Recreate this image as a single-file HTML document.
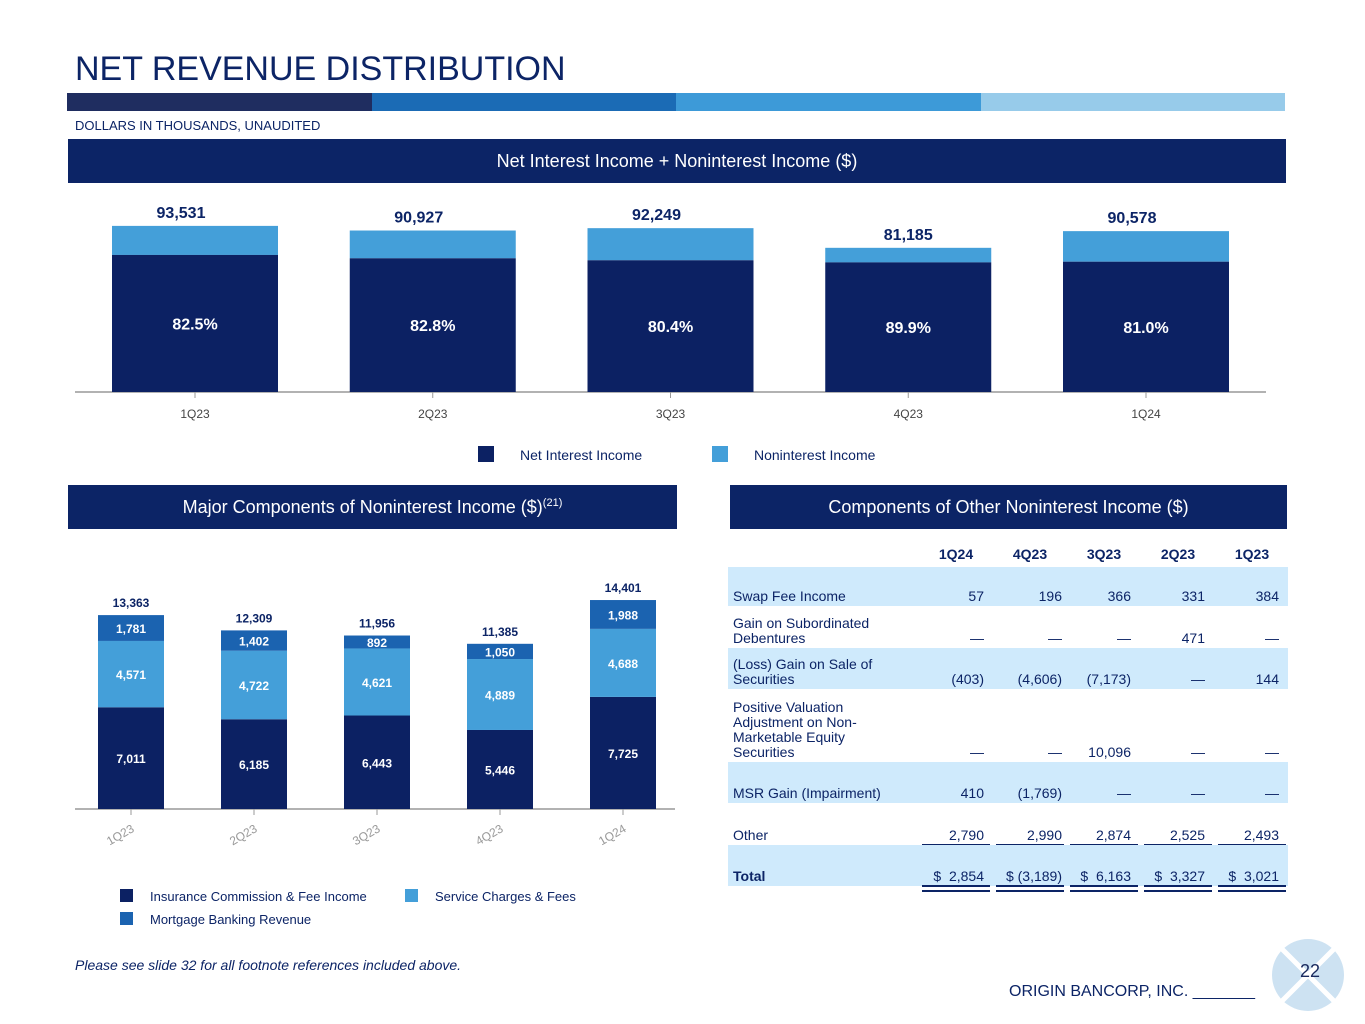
<!DOCTYPE html>
<html><head><meta charset="utf-8">
<style>
body{margin:0;width:1365px;height:1024px;background:#fff;font-family:"Liberation Sans",Arial,sans-serif;position:relative;overflow:hidden;color:#1a2a5e}
.abs{position:absolute}
.hdr{position:absolute;background:#0c2466;color:#fff;font-size:18px;text-align:center;line-height:44px}
.hdr sup{line-height:0;font-size:11px}
</style></head><body>
<div class="abs" style="left:75px;top:50px;font-size:34px;color:#0c2466">NET REVENUE DISTRIBUTION</div>
<div class="abs" style="left:67px;top:93px;width:1218px;height:18px;display:flex">
<div style="flex:1;background:#1f2d60"></div><div style="flex:1;background:#1b6bb5"></div><div style="flex:1;background:#3d9ad8"></div><div style="flex:1;background:#97cbea"></div></div>
<div class="abs" style="left:75px;top:118px;font-size:13px;color:#0c2466">DOLLARS IN THOUSANDS, UNAUDITED</div>
<div class="hdr" style="left:68px;top:139px;width:1218px;height:44px">Net Interest Income + Noninterest Income ($)</div>
<svg class="abs" id="topchart" style="left:0;top:190px" width="1365" height="290"></svg>
<div class="hdr" style="left:68px;top:485px;width:609px;height:44px">Major Components of Noninterest Income ($)<sup>(21)</sup></div>
<div class="hdr" style="left:730px;top:485px;width:557px;height:44px">Components of Other Noninterest Income ($)</div>
<svg class="abs" id="botchart" style="left:0;top:560px" width="700" height="380"></svg>
<div id="tbl" class="abs" style="left:728px;top:540px;width:560px;height:370px;font-size:14px;color:#0c2466"></div>
<div class="abs" style="left:75px;top:957px;font-size:14px;font-style:italic;color:#0c2466">Please see slide 32 for all footnote references included above.</div>
<div class="abs" style="left:1009px;top:983px;font-size:16px;color:#0c2466">ORIGIN BANCORP, INC. _______</div>
<svg class="abs" style="left:1270px;top:937px" width="76" height="76">
<circle cx="38" cy="38" r="36" fill="#cde2f2"/><line x1="12" y1="12" x2="64" y2="64" stroke="#fff" stroke-width="5"/><line x1="64" y1="12" x2="12" y2="64" stroke="#fff" stroke-width="5"/>
<text x="40" y="40" font-size="18" fill="#1a2a5e" text-anchor="middle" font-family="Liberation Sans">22</text></svg>
<script>
const topCats=["1Q23","2Q23","3Q23","4Q23","1Q24"];
const topTotals=[93531,90927,92249,81185,90578];
const topNiiPct=[82.5,82.8,80.4,89.9,81.0];
const botCats=["1Q23","2Q23","3Q23","4Q23","1Q24"];
const insurance=[7011,6185,6443,5446,7725];
const service=[4571,4722,4621,4889,4688];
const mortgage=[1781,1402,892,1050,1988];
const botTotals=[13363,12309,11956,11385,14401];
const tblCols=["1Q24","4Q23","3Q23","2Q23","1Q23"];
const tblLabels=["Swap Fee Income","Gain on Subordinated<br>Debentures","(Loss) Gain on Sale of<br>Securities","Positive Valuation<br>Adjustment on Non-<br>Marketable Equity<br>Securities","MSR Gain (Impairment)","Other","Total"];
const tblValues=[["57","196","366","331","384"],["—","—","—","471","—"],["(403)","(4,606)","(7,173)","—","144"],["—","—","10,096","—","—"],["410","(1,769)","—","—","—"],["2,790","2,990","2,874","2,525","2,493"],["$  2,854","$ (3,189)","$  6,163","$  3,327","$  3,021"]];
const NS="http://www.w3.org/2000/svg";
function mk(p,t,a,txt){const e=document.createElementNS(NS,t);for(const k in a)e.setAttribute(k,a[k]);if(txt!==undefined)e.textContent=txt;p.appendChild(e);return e;}
const topSvg=document.getElementById('topchart');
const tBase=202, tScale=0.001776, tw=166;
function tx(i){return 195+i*237.75;}
function ty(v){return tBase-v*tScale;}
mk(topSvg,'line',{x1:75,x2:1266,y1:tBase,y2:tBase,stroke:'#999','stroke-width':1.5});
topCats.forEach((c,i)=>{
  const nii=topTotals[i]*topNiiPct[i]/100;
  const r1=mk(topSvg,'rect',{x:tx(i)-tw/2,y:ty(topTotals[i]),width:tw,height:ty(nii)-ty(topTotals[i]),fill:'#449fd9'});
  
  
  const r2=mk(topSvg,'rect',{x:tx(i)-tw/2,y:ty(nii),width:tw,height:tBase-ty(nii),fill:'#0c2163'});
  
  
  mk(topSvg,'text',{x:tx(i),y:(ty(nii)+tBase)/2+6,fill:'#fff','font-size':16,'font-weight':'bold','text-anchor':'middle'},topNiiPct[i].toFixed(1)+'%');
  mk(topSvg,'text',{x:tx(i)-(i==3?0:14),y:ty(topTotals[i])-8,fill:'#0c2466','font-size':16,'font-weight':'bold','text-anchor':'middle'},topTotals[i].toLocaleString('en-US'));
  mk(topSvg,'line',{x1:tx(i),x2:tx(i),y1:tBase,y2:tBase+6,stroke:'#999'});
  mk(topSvg,'text',{x:tx(i),y:tBase+26,fill:'#444','font-size':12,'text-anchor':'middle'},c);
});
mk(topSvg,'rect',{x:478,y:256,width:16,height:16,fill:'#0c2163'});
mk(topSvg,'text',{x:520,y:270,'font-size':14,fill:'#0c2466'},'Net Interest Income');
mk(topSvg,'rect',{x:712,y:256,width:16,height:16,fill:'#449fd9'});
mk(topSvg,'text',{x:754,y:270,'font-size':14,fill:'#0c2466'},'Noninterest Income');
const botSvg=document.getElementById('botchart');
const bBase=249, bScale=0.01451, bw=66;
function bx(i){return 131+i*123;}
function by(v){return bBase-v*bScale;}
mk(botSvg,'line',{x1:75,x2:675,y1:bBase,y2:bBase,stroke:'#999','stroke-width':1.5});
botCats.forEach((c,i)=>{
  const segs=[[insurance[i],'#0c2163','insurance'],[service[i],'#449fd9','service'],[mortgage[i],'#1b63b0','mortgage']];
  let acc=0;
  segs.forEach(s=>{
    const y0=by(acc),y1=by(acc+s[0]);
    const r=mk(botSvg,'rect',{x:bx(i)-bw/2,y:y1,width:bw,height:y0-y1,fill:s[1]});
    
    
    mk(botSvg,'text',{x:bx(i),y:(y0+y1)/2+5,fill:'#fff','font-size':12,'font-weight':'bold','text-anchor':'middle'},s[0].toLocaleString('en-US'));
    acc+=s[0];
  });
  mk(botSvg,'text',{x:bx(i),y:by(botTotals[i])-8,fill:'#0c2466','font-size':12,'font-weight':'bold','text-anchor':'middle'},botTotals[i].toLocaleString('en-US'));
  mk(botSvg,'line',{x1:bx(i),x2:bx(i),y1:bBase,y2:bBase+6,stroke:'#999'});
  mk(botSvg,'text',{x:bx(i)+4,y:bBase+22,fill:'#999','font-size':12,'text-anchor':'end',transform:'rotate(-30 '+(bx(i)+4)+' '+(bBase+22)+')'},c);
});
mk(botSvg,'rect',{x:120,y:329,width:13,height:13,fill:'#0c2163'});
mk(botSvg,'text',{x:150,y:341,'font-size':13,fill:'#0c2466'},'Insurance Commission & Fee Income');
mk(botSvg,'rect',{x:405,y:329,width:13,height:13,fill:'#449fd9'});
mk(botSvg,'text',{x:435,y:341,'font-size':13,fill:'#0c2466'},'Service Charges & Fees');
mk(botSvg,'rect',{x:120,y:352,width:13,height:13,fill:'#1b63b0'});
mk(botSvg,'text',{x:150,y:364,'font-size':13,fill:'#0c2466'},'Mortgage Banking Revenue');
const tbl=document.getElementById('tbl');
const rowH=[39,42,41,73,41,42,41], colR=[256,334,403,477,551], colL=[194,268,342,416,490];
let h='<div style="position:absolute;top:6px;left:0;width:560px;height:20px">';
tblCols.forEach((c,j)=>{h+='<div style="position:absolute;left:'+colL[j]+'px;width:68px;text-align:center;font-weight:bold">'+c+'</div><div style="position:absolute;left:'+colL[j]+'px;width:68px;top:21px;border-top:2px solid #0c2466"></div>';});
h+='</div>';
let yy=27;
tblLabels.forEach((l,r)=>{
  const bg=r%2==0?'#cfeafc':'#fff';
  h+='<div style="position:absolute;left:0;top:'+yy+'px;width:560px;height:'+rowH[r]+'px;background:'+bg+'">';
  h+='<div style="position:absolute;left:5px;bottom:2px;line-height:15px;'+(r==6?'font-weight:bold':'')+'">'+l+'</div>';
  tblValues[r].forEach((v,j)=>{h+='<div style="position:absolute;right:'+(560-colR[j])+'px;bottom:2px;line-height:15px;white-space:pre">'+v+'</div>';});
  if(r==6){tblCols.forEach((c,j)=>{h+='<div style="position:absolute;left:'+colL[j]+'px;width:68px;bottom:-6px;height:3px;border-top:2px solid #0c2466;border-bottom:2px solid #0c2466"></div>';});}
  if(r==5){tblCols.forEach((c,j)=>{h+='<div style="position:absolute;left:'+colL[j]+'px;width:68px;bottom:-1px;border-top:2px solid #0c2466"></div>';});}
  h+='</div>';
  yy+=rowH[r];
});
tbl.innerHTML=h;
</script>
</body></html>
